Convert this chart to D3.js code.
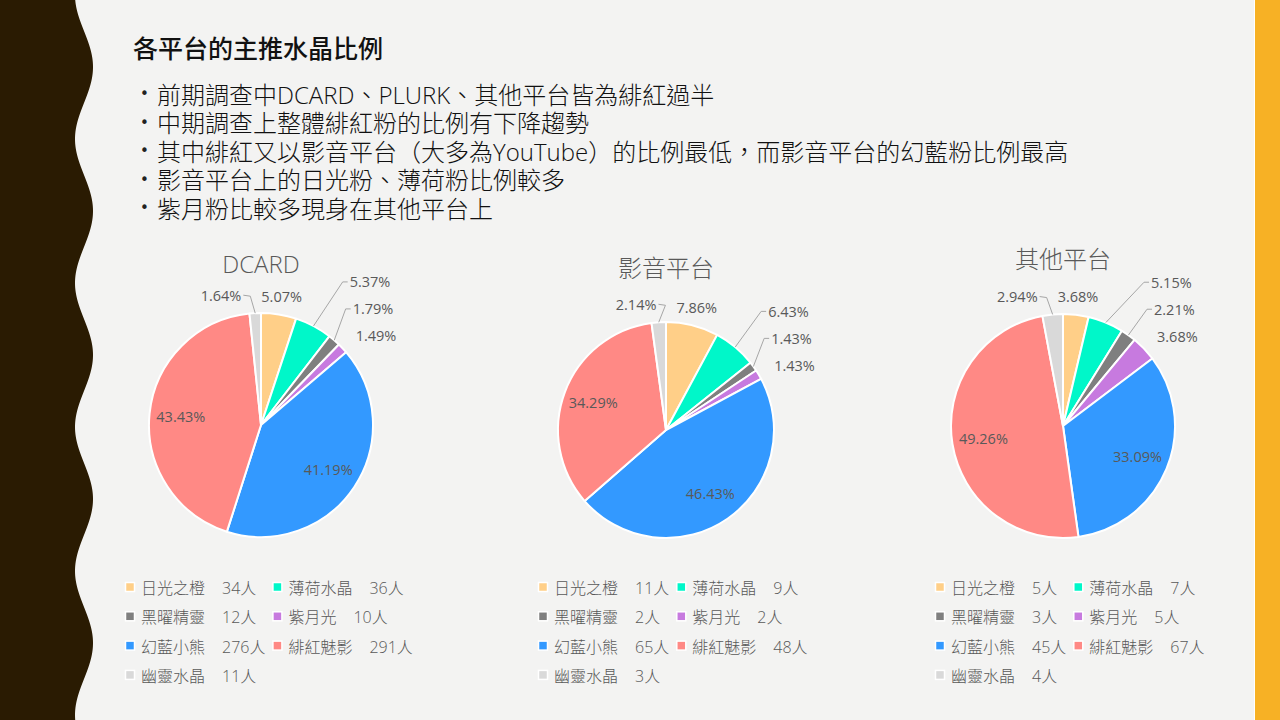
<!DOCTYPE html>
<html>
<head>
<meta charset="utf-8">
<script src="https://cdn.jsdelivr.net/npm/d3@7"></script>
<style>
  html, body { margin: 0; padding: 0; background: #F3F3F2; }
  svg { display: block; }
  text { font-family: "Open Sans", "Noto Sans CJK TC", sans-serif; }
</style>
</head>
<body>
<svg id="chart" width="1280" height="720"></svg>
<script>
// ---------- data ----------
const title = "各平台的主推水晶比例";
const bullets = [
  "前期調查中DCARD、PLURK、其他平台皆為緋紅過半",
  "中期調查上整體緋紅粉的比例有下降趨勢",
  "其中緋紅又以影音平台（大多為YouTube）的比例最低，而影音平台的幻藍粉比例最高",
  "影音平台上的日光粉、薄荷粉比例較多",
  "紫月粉比較多現身在其他平台上"
];
const categories = ["日光之橙", "薄荷水晶", "黑曜精靈", "紫月光", "幻藍小熊", "緋紅魅影", "幽靈水晶"];
const colors = ["#FFCF88", "#00F7C9", "#7F7F7F", "#C77ADF", "#3399FF", "#FF8985", "#D9D9D9"];
const platforms = ["DCARD", "影音平台", "其他平台"];
const dcardCounts = [34, 36, 12, 10, 276, 291, 11];
const videoCounts = [11, 9, 2, 2, 65, 48, 3];
const otherCounts = [5, 7, 3, 5, 45, 67, 4];
const unit = "人";

// ---------- layout ----------
const layouts = [
  { cx: 261, cy: 425, r: 112, titleY: 263, legendX: 126 },
  { cx: 666, cy: 430, r: 108, titleY: 267, legendX: 539 },
  { cx: 1063, cy: 426, r: 112, titleY: 258, legendX: 936 }
];
const seriesList = [dcardCounts, videoCounts, otherCounts];

const svg = d3.select("#chart");
svg.append("rect").attr("width", 1280).attr("height", 720).attr("fill", "#F3F3F2");

// left wavy band
const waveY = d3.range(0, 722, 2);
const wave = d3.line().x(d => d[0]).y(d => d[1]);
const wavePts = [[0, 0]].concat(waveY.map(y => [84 + 9 * Math.cos(2 * Math.PI * (y - 67) / 144), y])).concat([[0, 720]]);
svg.append("path").attr("d", wave(wavePts) + "Z").attr("fill", "#2A1B02");

// right bar
svg.append("rect").attr("x", 1254).attr("y", 0).attr("width", 1).attr("height", 720).attr("fill", "#FFFFFF");
svg.append("rect").attr("x", 1255).attr("y", 0).attr("width", 25).attr("height", 720).attr("fill", "#F7B125");

// title
svg.append("text").attr("x", 133).attr("y", 47).attr("dominant-baseline", "central")
  .attr("font-size", 25).attr("font-weight", 500).attr("fill", "#111")
  .style("font-family", "'Noto Sans CJK TC', sans-serif").text(title);

// bullets
bullets.forEach((b, i) => {
  const y = 94 + i * 28.6;
  svg.append("text").attr("x", 140).attr("y", y).attr("dominant-baseline", "central")
    .attr("font-size", 15).attr("fill", "#222").style("font-family", "'DejaVu Sans', sans-serif").text("•");
  svg.append("text").attr("x", 157).attr("y", y).attr("dominant-baseline", "central")
    .attr("font-size", 24).attr("font-weight", 300).attr("fill", "#111").text(b);
});

const pie = d3.pie().sort(null).value(d => d);
const fmt = d3.format(".2%");

seriesList.forEach((vals, ci) => {
  const L = layouts[ci];
  const g = svg.append("g");
  const total = d3.sum(vals);
  const arcs = pie(vals);
  const arc = d3.arc().innerRadius(0).outerRadius(L.r);

  // title
  g.append("text").attr("x", L.cx).attr("y", L.titleY).attr("text-anchor", "middle")
    .attr("dominant-baseline", "central").attr("font-size", 24).attr("font-weight", 300)
    .attr("fill", "#595959").text(platforms[ci]);

  // slices
  g.append("g").attr("transform", `translate(${L.cx},${L.cy})`)
    .selectAll("path").data(arcs).join("path")
    .attr("d", arc).attr("fill", (d, i) => colors[i])
    .attr("stroke", "#FFFFFF").attr("stroke-width", 2).attr("stroke-linejoin", "round");

  // labels
  const labels = arcs.map((d, i) => {
    const pct = d.value / total;
    const mid = (d.startAngle + d.endAngle) / 2;
    const o = { i, pct, mid, text: fmt(pct) };
    if (pct > 0.15) {
      o.type = "inside";
      o.x = L.cx + 0.72 * L.r * Math.sin(mid);
      o.y = L.cy - 0.72 * L.r * Math.cos(mid);
    } else {
      const rr = L.r + 18;
      o.nx = L.cx + rr * Math.sin(mid);
      o.ny = L.cy - rr * Math.cos(mid);
      o.x = o.nx; o.y = o.ny;
      const s = Math.sin(mid);
      o.type = Math.abs(s) < 0.35 ? "top" : (s > 0 ? "right" : "left");
    }
    return o;
  });

  const lblG = g.append("g");
  const leadG = g.append("g");
  labels.forEach(o => {
    o.node = lblG.append("text").attr("font-size", 14.5).attr("fill", "#595959")
      .attr("dominant-baseline", "central").text(o.text);
    o.w = o.node.node().getComputedTextLength();
  });

  // right group: push up
  const right = labels.filter(o => o.type === "right").sort((a, b) => b.ny - a.ny);
  right.forEach((o, k) => {
    if (k > 0) {
      const p = right[k - 1];
      o.y = Math.min(o.ny, p.y - 27);
      o.x = Math.max(o.nx, p.x - 3);
    }
  });
  // top group: resolve horizontal overlaps, shifting left-of-top labels leftwards
  const top = labels.filter(o => o.type === "top").sort((a, b) => a.nx - b.nx);
  for (let k = top.length - 2; k >= 0; k--) {
    const o = top[k], n = top[k + 1];
    const nLeft = n.x - n.w / 2;
    if (o.x + o.w / 2 > nLeft - 20) o.x = nLeft - 20 - o.w / 2;
  }

  labels.forEach(o => {
    let anchor = "middle";
    if (o.type === "right") anchor = "start";
    if (o.type === "left") anchor = "end";
    o.node.attr("x", o.x).attr("y", o.y).attr("text-anchor", anchor);
    if (o.type === "inside") return;
    const moved = Math.hypot(o.x - o.nx, o.y - o.ny) > 5;
    if (!moved) return;
    const ex = L.cx + L.r * Math.sin(o.mid), ey = L.cy - L.r * Math.cos(o.mid);
    let pts;
    if (o.type === "right") {
      pts = [[ex, ey], [o.x - 7, o.y], [o.x - 2, o.y]];
    } else if (o.type === "top") {
      const re = o.x + o.w / 2;
      pts = [[re + 2, o.y], [re + 9, o.y + 1], [ex, ey]];
    } else {
      pts = [[ex, ey], [o.x + 7, o.y], [o.x + 2, o.y]];
    }
    leadG.append("path").attr("d", d3.line()(pts)).attr("fill", "none")
      .attr("stroke", "#A6A6A6").attr("stroke-width", 1);
  });

  // legend
  const legG = g.append("g");
  const rowY = k => 588 + k * 29.3;
  const items = categories.map((c, i) => ({ i, name: c, count: vals[i] + unit }));
  let col1End = 0;
  items.forEach(it => {
    const t1 = legG.append("text").attr("font-size", 16).attr("font-weight", 300).text(it.name);
    const t2 = legG.append("text").attr("font-size", 16).attr("font-weight", 300).text(it.count);
    it.t1 = t1; it.t2 = t2;
    it.nw = t1.node().getComputedTextLength();
    it.cw = t2.node().getComputedTextLength();
    if (it.i % 2 === 0) col1End = Math.max(col1End, L.legendX + 15 + it.nw + 17 + it.cw);
  });
  const col2X = col1End + 8;
  items.forEach(it => {
    const x = it.i % 2 === 0 ? L.legendX : col2X;
    const y = rowY(Math.floor(it.i / 2));
    legG.append("rect").attr("x", x - 0.5).attr("y", y - 5.5).attr("width", 9).attr("height", 9)
      .attr("fill", colors[it.i]).attr("stroke", "#FFFFFF").attr("stroke-width", 1.5);
    it.t1.attr("x", x + 15).attr("y", y).attr("dominant-baseline", "central").attr("fill", "#595959");
    it.t2.attr("x", x + 15 + it.nw + 17).attr("y", y).attr("dominant-baseline", "central").attr("fill", "#595959");
  });
});
</script>
</body>
</html>
